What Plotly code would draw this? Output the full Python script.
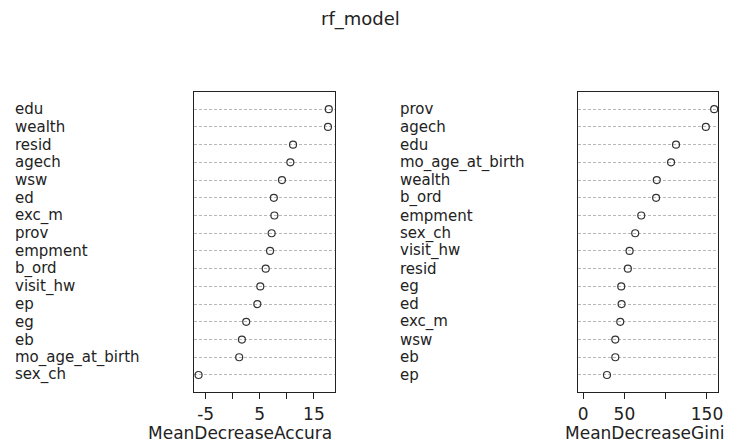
import plotly.graph_objects as go

# Left panel: MeanDecreaseAccuracy (top to bottom)
acc_labels = ["edu", "wealth", "resid", "agech", "wsw", "ed", "exc_m", "prov",
              "empment", "b_ord", "visit_hw", "ep", "eg", "eb", "mo_age_at_birth", "sex_ch"]
acc_values = [17.75, 17.6, 11.15, 10.65, 9.1, 7.6, 7.7, 7.2,
              6.9, 6.1, 5.1, 4.55, 2.5, 1.7, 1.2, -6.3]

# Right panel: MeanDecreaseGini (top to bottom)
gini_labels = ["prov", "agech", "edu", "mo_age_at_birth", "wealth", "b_ord", "empment", "sex_ch",
               "visit_hw", "resid", "eg", "ed", "exc_m", "wsw", "eb", "ep"]
gini_values = [158.7, 148.6, 112.5, 106.5, 89.2, 88.4, 70.4, 63.1,
               56.3, 54.2, 46.2, 46.6, 45.0, 39.0, 39.0, 28.9]

acc_ticks = [-5, 0, 5, 10, 15]
acc_ticktext = ["-5", "", "5", "", "15"]
gini_ticks = [0, 50, 100, 150]
gini_ticktext = ["0", "50", "", "150"]

W, H = 748, 443
FONT = "DejaVu Sans"
TXT = "#222222"

n = len(acc_labels)
rows = [n - i for i in range(n)]

fig = go.Figure()
fig.add_trace(go.Scatter(x=acc_values, y=rows, mode="markers", xaxis="x", yaxis="y",
                         marker=dict(symbol="circle-open", size=7, color="#333333",
                                     line=dict(width=1.2, color="#333333")),
                         showlegend=False, hoverinfo="skip"))
fig.add_trace(go.Scatter(x=gini_values, y=rows, mode="markers", xaxis="x2", yaxis="y2",
                         marker=dict(symbol="circle-open", size=7, color="#333333",
                                     line=dict(width=1.2, color="#333333")),
                         showlegend=False, hoverinfo="skip"))

ydom = [1 - 392 / H, 1 - 92 / H]
yrange = [0.04, n + 0.97]

common_x = dict(showline=True, linecolor="#222222", linewidth=1.4, mirror=True,
                ticks="outside", ticklen=6, tickwidth=1.4, tickcolor="#222222",
                showgrid=False, zeroline=False,
                tickfont=dict(family=FONT, size=17, color=TXT))
common_y = dict(showline=True, linecolor="#222222", linewidth=1.4, mirror=True,
                showticklabels=False, ticks="", range=yrange, domain=ydom,
                tickvals=rows, showgrid=True, gridcolor="#b8b8b8", gridwidth=1,
                griddash="3px,2px", zeroline=False)

fig.update_layout(
    width=W, height=H, margin=dict(l=0, r=0, t=0, b=0),
    paper_bgcolor="white", plot_bgcolor="white",
    xaxis=dict(domain=[195 / W, 337 / W], range=[-7.2, 18.85],
               tickvals=acc_ticks, ticktext=acc_ticktext, anchor="y", **common_x),
    yaxis=dict(anchor="x", **common_y),
    xaxis2=dict(domain=[581.7 / W, 723.3 / W], range=[-6.4, 163.9],
                tickvals=gini_ticks, ticktext=gini_ticktext, anchor="y2", **common_x),
    yaxis2=dict(anchor="x2", **common_y),
)

ann = []
for i, lab in enumerate(acc_labels):
    ann.append(dict(text=lab, xref="paper", x=14 / W, xanchor="left",
                    yref="y", y=rows[i], yanchor="middle", showarrow=False, borderpad=0,
                    font=dict(family=FONT, size=15, color=TXT)))
for i, lab in enumerate(gini_labels):
    ann.append(dict(text=lab, xref="paper", x=402 / W, xanchor="left",
                    yref="y2", y=rows[i], yanchor="middle", showarrow=False, borderpad=0,
                    font=dict(family=FONT, size=15, color=TXT)))
ann.append(dict(text="MeanDecreaseAccura", xref="paper", x=147 / W, xanchor="left",
                yref="paper", y=1 - 433 / H, yanchor="middle", showarrow=False,
                font=dict(family=FONT, size=17, color=TXT)))
ann.append(dict(text="MeanDecreaseGini", xref="paper", x=649 / W, xanchor="center",
                yref="paper", y=1 - 433 / H, yanchor="middle", showarrow=False,
                font=dict(family=FONT, size=17, color=TXT)))
ann.append(dict(text="rf_model", xref="paper", x=363 / W, xanchor="center",
                yref="paper", y=1 - 19 / H, yanchor="middle", showarrow=False,
                font=dict(family=FONT, size=18, color=TXT)))
fig.update_layout(annotations=ann)

fig.write_html("out.html")
